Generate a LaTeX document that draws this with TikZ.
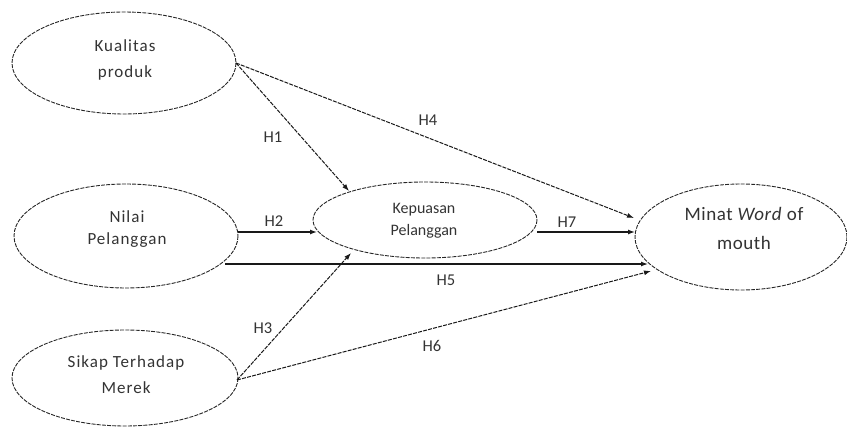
\documentclass[tikz,border=0pt]{standalone}
\usepackage{fontspec}
\setmainfont{Carlito}
\usetikzlibrary{arrows.meta}
\begin{document}
\begin{tikzpicture}[x=1pt,y=-1pt,
  var/.style={draw=black!85, line width=0.9pt, dash pattern=on 4pt off 1.2pt},
  vtext/.style={align=center, text=black!80, inner sep=0pt},
  solidarr/.style={draw=black!90, line width=1.3pt, -{Latex[length=7pt,width=5pt]}},
  dasharr/.style={draw=black!90, line width=1pt, dash pattern=on 4pt off 1.2pt, -{Latex[length=7pt,width=5pt]}},
  hlab/.style={font=\fontsize{16.5}{18}\selectfont, text=black!80, inner sep=1pt}]
\useasboundingbox (0,0) rectangle (847,428);
% ellipses
\draw[var] (124,63) ellipse [x radius=112, y radius=51];
\draw[var] (126,236) ellipse [x radius=112, y radius=52];
\draw[var] (125,378) ellipse [x radius=113, y radius=48];
\draw[var] (425,220) ellipse [x radius=112, y radius=38];
\draw[var] (741,237) ellipse [x radius=106, y radius=53];
\node[vtext, font=\fontsize{17}{26}\selectfont\addfontfeature{LetterSpace=6}] (kp) at (125,60) {Kualitas\\produk};
\node[vtext, font=\fontsize{17}{22}\selectfont\addfontfeature{LetterSpace=6}] (np) at (127,229) {Nilai\\Pelanggan};
\node[vtext, font=\fontsize{17}{26}\selectfont\addfontfeature{LetterSpace=6}] (sm) at (126,375) {Sikap Terhadap\\Merek};
\node[vtext, font=\fontsize{16}{22}\selectfont] (kep) at (424,221) {Kepuasan\\Pelanggan};
\node[vtext, font=\fontsize{19}{29}\selectfont\addfontfeature{LetterSpace=3}] (mw) at (744,228) {Minat \textit{Word} of\\mouth};
% anchor coordinates
\coordinate (kpE) at (236,63);
\coordinate (npE) at (238,232);
\coordinate (npL) at (225,264);
\coordinate (smE) at (237,380);
\coordinate (kepNW) at (349,191);
\coordinate (kepW) at (317,232);
\coordinate (kepSW) at (351,253);
\coordinate (kepE) at (537,232);
\coordinate (mwT) at (634,218);
\coordinate (mwW) at (635,232);
\coordinate (mwL) at (648,264);
\coordinate (mwB) at (651,271);
% arrows
\draw[dasharr] (kpE) -- (kepNW);
\draw[dasharr] (kpE) -- (mwT);
\draw[solidarr] (npE) -- (kepW);
\draw[solidarr] (kepE) -- (mwW);
\draw[solidarr] (npL) -- (mwL);
\draw[dasharr] (smE) -- (kepSW);
\draw[dasharr] (smE) -- (mwB);
% labels
\node[hlab] (h1) at (273,137) {H1};
\node[hlab] (h4) at (428,120) {H4};
\node[hlab] (h2) at (274,221) {H2};
\node[hlab] (h7) at (567,222) {H7};
\node[hlab] (h5) at (446,280) {H5};
\node[hlab] (h3) at (263,328) {H3};
\node[hlab] (h6) at (432,346) {H6};
\end{tikzpicture}
\end{document}
